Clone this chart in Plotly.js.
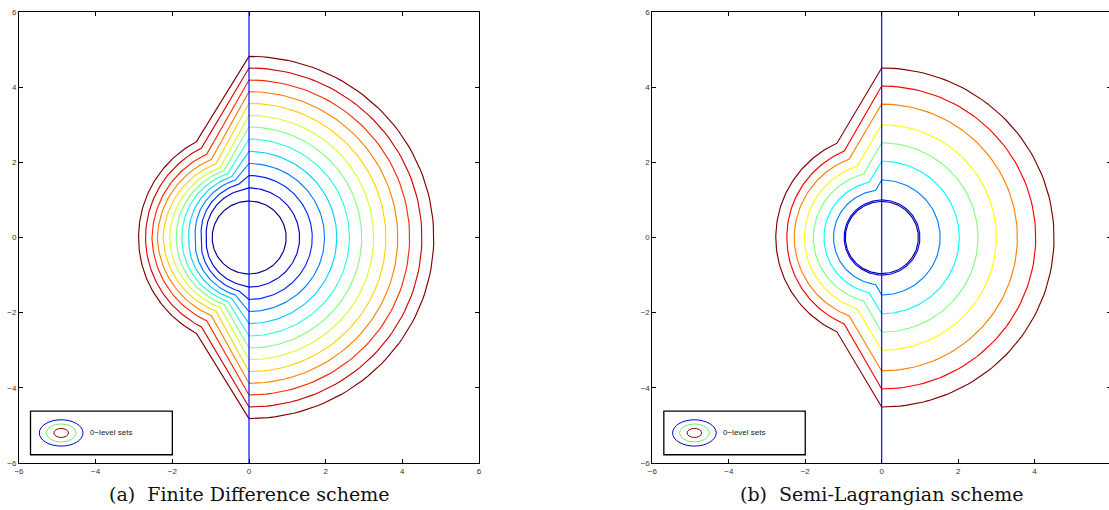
<!DOCTYPE html>
<html><head><meta charset="utf-8">
<script src="https://cdn.plot.ly/plotly-3.0.1.min.js"></script>
<style>html,body{margin:0;padding:0;overflow:hidden;background:#fff}#plot{width:1112px;height:510px}</style>
</head><body><div id="plot"></div>
<script>
// ---- Finite Difference scheme: level sets ----
// radius on the right half (x>0), leftmost extent at y=0, and the knee point of the upper-left branch
const fdRight = [0.97, 1.32, 1.65, 1.97, 2.29, 2.62, 2.94, 3.25, 3.57, 3.88, 4.19, 4.51, 4.82];
const fdLeft  = [0.96, 1.11, 1.24, 1.40, 1.57, 1.75, 1.90, 2.07, 2.24, 2.39, 2.53, 2.70, 2.88];
const fdKneeX = [0.00, -0.18, -0.27, -0.36, -0.45, -0.55, -0.65, -0.75, -0.86, -0.98, -1.10, -1.24, -1.37];
const fdKneeY = [0.97, 1.27, 1.42, 1.53, 1.62, 1.70, 1.78, 1.86, 1.96, 2.08, 2.22, 2.38, 2.55];

// ---- Semi-Lagrangian scheme: level sets ----
const slRight = [0.96, 1.00, 1.53, 2.03, 2.52, 3.00, 3.55, 4.03, 4.51];
const slLeft  = [0.95, 0.98, 1.26, 1.51, 1.79, 2.02, 2.29, 2.48, 2.77];
const slKneeX = [0.00, 0.00, -0.16, -0.33, -0.47, -0.64, -0.85, -0.98, -1.17];
const slKneeY = [0.96, 1.00, 1.25, 1.47, 1.69, 1.90, 2.09, 2.30, 2.51];

// tick labels
const tickVals = [-6, -4, -2, 0, 2, 4, 6];
const tickText = ['\u22126', '\u22124', '\u22122', '0', '2', '4', '6'];

// captions and legend text
const captions = ['(a)  Finite Difference scheme', '(b)  Semi-Lagrangian scheme'];
const legendLabel = '0\u2212level sets';

// ---- styles ----
const fdColors = ['rgb(0,0,128)','rgb(0,0,212)','rgb(0,42,255)','rgb(0,128,255)','rgb(0,212,255)',
  'rgb(42,255,212)','rgb(128,255,128)','rgb(212,255,42)','rgb(255,212,0)','rgb(255,128,0)',
  'rgb(255,42,0)','rgb(212,0,0)','rgb(128,0,0)'];
const slColors = ['rgb(0,0,128)','rgb(0,0,255)','rgb(0,128,255)','rgb(0,255,255)','rgb(128,255,128)',
  'rgb(255,255,0)','rgb(255,128,0)','rgb(255,0,0)','rgb(128,0,0)'];

const D = Math.PI / 180;
function levelPath(R, L, kx, ky) {
  const xs = [], ys = [];
  for (let a = -90; a <= 90; a += 2) { xs.push(R * Math.cos(a * D)); ys.push(R * Math.sin(a * D)); }
  const rk = Math.hypot(kx, ky), pk = Math.atan2(ky, kx) / D;
  const ux = [], uy = [];
  const n = 40;
  for (let j = 0; j <= n; j++) {
    const f = j / n, a = pk + (180 - pk) * f, r = rk + (L - rk) * f;
    ux.push(r * Math.cos(a * D)); uy.push(r * Math.sin(a * D));
  }
  for (let j = 0; j < ux.length; j++) { xs.push(ux[j]); ys.push(uy[j]); }
  for (let j = ux.length - 2; j >= 0; j--) { xs.push(ux[j]); ys.push(-uy[j]); }
  xs.push(0); ys.push(-R);
  return {xs, ys};
}

const traces = [];
function addLevels(rs, ls, kxs, kys, colors, xa, ya) {
  for (let i = 0; i < rs.length; i++) {
    const p = levelPath(rs[i], ls[i], kxs[i], kys[i]);
    traces.push({x: p.xs, y: p.ys, xaxis: xa, yaxis: ya, type: 'scatter', mode: 'lines',
      line: {color: colors[i], width: 1.15}, hoverinfo: 'skip', showlegend: false});
  }
  traces.push({x: [0, 0], y: [-6, 6], xaxis: xa, yaxis: ya, type: 'scatter', mode: 'lines',
    line: {color: 'rgb(0,0,255)', width: 1.15}, hoverinfo: 'skip', showlegend: false});
}
addLevels(fdRight, fdLeft, fdKneeX, fdKneeY, fdColors, 'x', 'y');
addLevels(slRight, slLeft, slKneeX, slKneeY, slColors, 'x2', 'y2');

const axisBase = {
  range: [-6, 6], tickvals: tickVals, ticktext: tickText, ticks: 'inside', ticklen: 4, tickwidth: 1,
  tickcolor: '#000', showline: true, linecolor: '#000', linewidth: 1, mirror: 'ticks',
  showgrid: false, zeroline: false, automargin: false, fixedrange: true,
  tickfont: {family: 'Liberation Sans, Arial, sans-serif', size: 8, color: '#333'}
};

const shapes = [], annotations = [];
const ellipses = [{rx: 0.57, ry: 0.35, c: 'rgb(0,0,200)'}, {rx: 0.39, ry: 0.24, c: 'rgb(110,240,110)'}, {rx: 0.19, ry: 0.12, c: 'rgb(140,0,0)'}];
[['x', 'y', 0], ['x2', 'y2', 1]].forEach(([xr, yr, k]) => {
  shapes.push({type: 'rect', xref: xr, yref: yr, x0: -5.70, x1: -2.00, y0: -5.78, y1: -4.62,
    line: {color: '#000', width: 1.3}, fillcolor: '#fff', layer: 'above'});
  const cx = -4.9, cy = -5.2;
  ellipses.forEach(e => shapes.push({type: 'circle', xref: xr, yref: yr,
    x0: cx - e.rx, x1: cx + e.rx, y0: cy - e.ry, y1: cy + e.ry, line: {color: e.c, width: 1}, layer: 'above'}));
  annotations.push({xref: xr, yref: yr, x: -4.2, y: -5.19, text: legendLabel, showarrow: false,
    xanchor: 'left', yanchor: 'middle', font: {family: 'Liberation Sans, Arial, sans-serif', size: 8, color: '#222'}});
  annotations.push({xref: xr, yref: 'paper', x: 0, y: -0.069, text: captions[k], showarrow: false,
    xanchor: 'center', yanchor: 'middle', font: {family: 'DejaVu Serif, serif', size: 19, color: '#111'}});
});

const layout = {
  width: 1112, height: 510, margin: {l: 19, r: 1, t: 12, b: 47},
  paper_bgcolor: '#fff', plot_bgcolor: '#fff', showlegend: false,
  xaxis: Object.assign({}, axisBase, {domain: [0, 0.42125], anchor: 'y'}),
  yaxis: Object.assign({}, axisBase, {domain: [0, 1], anchor: 'x'}),
  xaxis2: Object.assign({}, axisBase, {domain: [0.58, 1], anchor: 'y2'}),
  yaxis2: Object.assign({}, axisBase, {domain: [0, 1], anchor: 'x2'}),
  shapes: shapes, annotations: annotations
};
Plotly.newPlot('plot', traces, layout, {staticPlot: true, displayModeBar: false});
</script></body></html>
